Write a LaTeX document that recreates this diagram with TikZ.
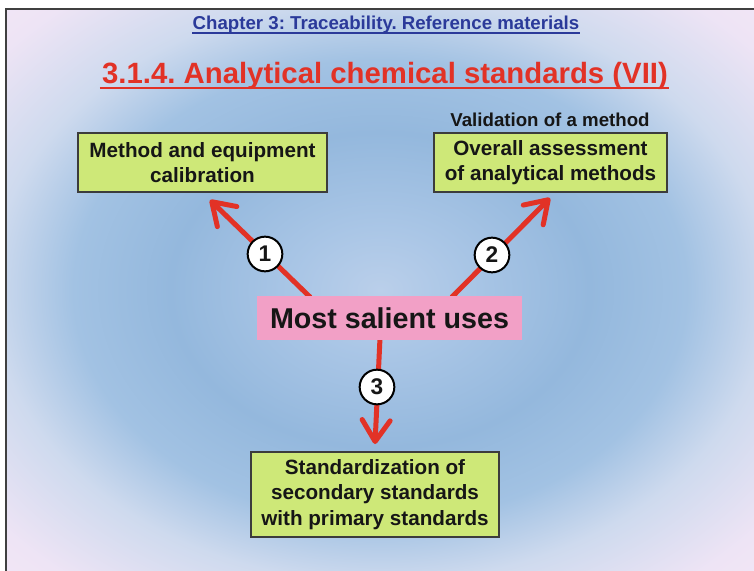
\documentclass[tikz,border=0pt]{standalone}
\usepackage{fontspec}
\setmainfont{Liberation Sans}
\usetikzlibrary{arrows.meta}
\frenchspacing
\definecolor{hdrblue}{RGB}{43,58,154}
\definecolor{ttlred}{RGB}{226,50,38}
\definecolor{boxgreen}{RGB}{206,232,120}
\definecolor{boxpink}{RGB}{242,160,198}
\definecolor{arrred}{RGB}{226,50,38}
\definecolor{boxline}{RGB}{60,60,60}
\definecolor{txtblack}{RGB}{22,22,22}
\definecolor{bgA}{RGB}{186,207,234}
\definecolor{bgB}{RGB}{170,198,230}
\definecolor{bgC}{RGB}{148,184,221}
\definecolor{bgD}{RGB}{162,194,227}
\definecolor{bgE}{RGB}{206,218,238}
\definecolor{bgF}{RGB}{238,228,245}
\definecolor{bgG}{RGB}{246,233,247}
\pgfdeclareradialshading{slidebg}{\pgfpoint{0bp}{0bp}}{color(0bp)=(bgA); color(5.5bp)=(bgB); color(14bp)=(bgC); color(20.5bp)=(bgD); color(26bp)=(bgE); color(33bp)=(bgF); color(40bp)=(bgG)}
\tikzset{
  gbox/.style={draw=boxline, line width=0.8pt, fill=boxgreen, align=center, inner sep=2pt,
    text=txtblack, font=\fontsize{15.5}{19}\selectfont\bfseries},
  pbox/.style={fill=boxpink, align=center, inner sep=2pt, text=txtblack,
    minimum width=198.75pt, minimum height=33pt, font=\fontsize{21.5}{25}\selectfont\bfseries},
  arr/.style={draw=arrred, line width=3.75pt, line cap=round,
    -{Straight Barb[length=16pt,width=21pt,round,line width=3.75pt]}},
  numc/.style={circle, draw=black, line width=1.5pt, fill=white, inner sep=0pt,
    minimum size=26pt, text=txtblack, font=\fontsize{17}{19}\selectfont\bfseries}
}
\begin{document}
\begin{tikzpicture}[x=0.75pt,y=-0.75pt]
\useasboundingbox (0,0) rectangle (754,571);
\fill[white] (0,0) rectangle (754,571);
\shade[shading=slidebg] (6,9) rectangle (754,571);
\draw[black!75, line width=1.2pt] (6,571) -- (6,9) -- (754,9);

% header
\node[anchor=base, inner sep=0pt, text=hdrblue, font=\fontsize{14}{16}\selectfont\bfseries] (hdr) at (386,29) {Chapter 3: Traceability. Reference materials};
\draw[hdrblue, line width=1.5pt] ([yshift=-3pt]hdr.base west) -- ([yshift=-3pt]hdr.base east);

% title
\node[anchor=base, inner sep=0pt, text=ttlred, font=\fontsize{22}{26}\selectfont\bfseries] (ttl) at (385,83) {3.1.4. Analytical chemical standards (VII)};
\draw[ttlred, line width=2pt] ([yshift=-3.75pt,xshift=-1.5pt]ttl.base west) -- ([yshift=-3.75pt,xshift=1pt]ttl.base east);

% boxes
\node[gbox, minimum width=186.75pt, minimum height=44.25pt] (b1) at (202.5,162.5) {Method and equipment\\calibration};
\node[anchor=base, inner sep=0pt, text=txtblack, font=\fontsize{14}{16}\selectfont\bfseries] (val) at (550,126) {Validation of a method};
\node[gbox, minimum width=174.75pt, minimum height=44.25pt] (b2) at (550.5,162.5) {Overall assessment\\of analytical methods};
\node[gbox, minimum width=186pt, minimum height=63.75pt] (b3) at (375,494.5) {Standardization of\\secondary standards\\with primary standards};

% arrows
\coordinate (s1) at (310,297);
\coordinate (e1) at (210,200);
\coordinate (s2) at (452,297);
\coordinate (e2) at (550,198);
\coordinate (s3) at (380,338);
\coordinate (e3) at (375,444);
\draw[arr] (s1) -- (e1);
\draw[arr] (s2) -- (e2);
\draw[arr] (s3) -- (e3);

% center
\node[pbox] (mid) at (389.5,318) {Most salient uses};

% numbers
\node[numc] (n1) at (265,254) {1};
\node[numc] (n2) at (492,255) {2};
\node[numc] (n3) at (377,387) {3};
\end{tikzpicture}
\end{document}
